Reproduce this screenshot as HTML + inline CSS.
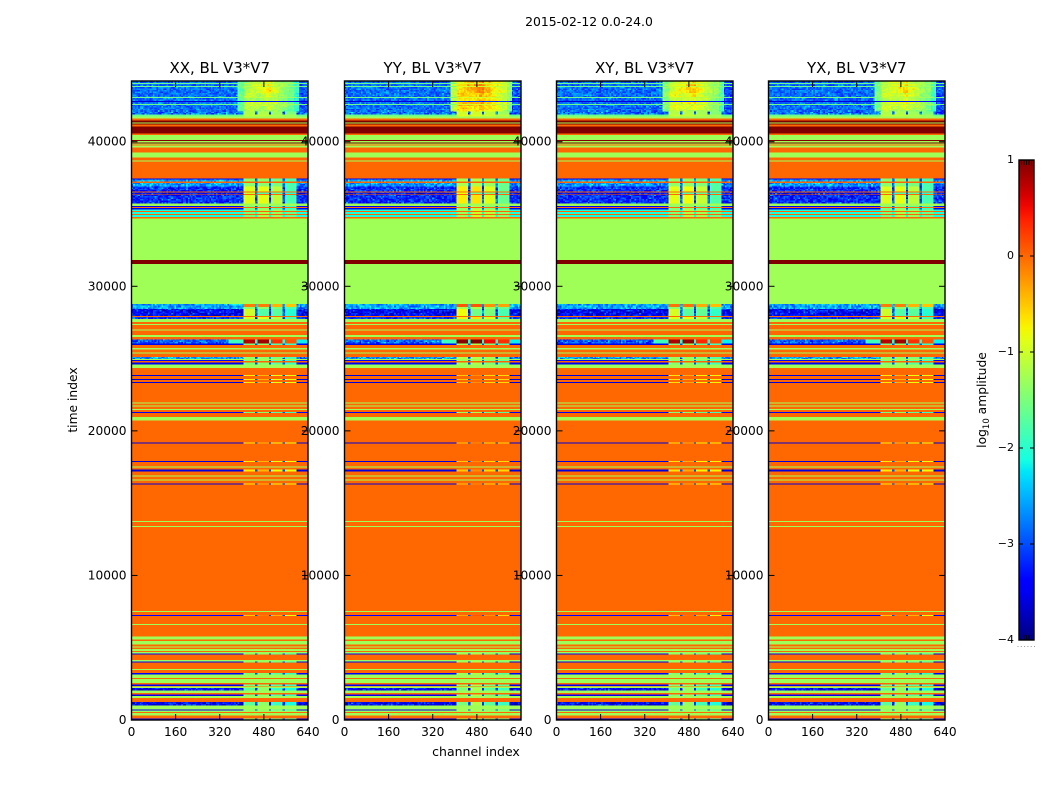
<!DOCTYPE html>
<html>
<head>
<meta charset="utf-8">
<title>2015-02-12 waterfall</title>
<style>
html,body{margin:0;padding:0;background:#fff;width:1050px;height:800px;overflow:hidden}
svg{display:block}
text{font-family:"DejaVu Sans","Liberation Sans",sans-serif;fill:#000}
</style>
</head>
<body>
<svg id="chart" xmlns="http://www.w3.org/2000/svg" width="1050" height="800" viewBox="0 0 1050 800">
  <defs>
    <linearGradient id="jetGradient" x1="0" y1="1" x2="0" y2="0"></linearGradient>
  </defs>
  <g id="heatmaps"></g>
  <g id="frames"></g>
  <g id="colorbar"></g>
  <g id="labels"></g>
</svg>
<script>
// ---------- chart data ----------
const panelTitles = ['XX, BL V3*V7', 'YY, BL V3*V7', 'XY, BL V3*V7', 'YX, BL V3*V7'];
const xTicks = [0, 160, 320, 480, 640];
const yTicks = [0, 10000, 20000, 30000, 40000];
const cbarTicks = [1, 0, -1, -2, -3, -4];
const timeMax = 44200;
const channelMax = 640;
const vMin = -4;
const vMax = 1;

// Time index where each horizontal band begins
const bandStarts = [
  0, 90, 311, 485, 554, 658, 727, 1004, 1232, 1523,
  1675, 1765, 1869, 2042, 2229, 2319, 2368, 2458, 2575, 2852,
  2921, 3150, 3240, 3475, 3545, 3981, 4050, 4140, 4535, 4604,
  4694, 4777, 4901, 4998, 5088, 5227, 5455, 5552, 5781, 6556,
  6625, 7179, 7248, 7456, 7525, 13341, 13410, 13687, 13756, 16304,
  16373, 16560, 16629, 16857, 16927, 17183, 17342, 17460, 17529, 17848,
  17917, 19142, 19211, 20734, 20963, 21219, 21288, 21427, 21496, 21669,
  21738, 21877, 21946, 23296, 23365, 23504, 23573, 23781, 23850, 24355,
  24590, 24729, 24818, 24888, 24957, 25117, 25352, 25421, 25629, 25740,
  25926, 26044, 26321, 26501, 26619, 26944, 27014, 27311, 27380, 27540,
  27727, 27886, 27955, 28420, 28578, 28765, 31553, 31810, 34698, 34809,
  34926, 34995, 35134, 35204, 35321, 35411, 35481, 35550, 35737, 36312,
  36367, 36492, 36547, 36887, 37143, 37233, 37400, 37468, 38618, 38687,
  38922, 39268, 39614, 39724, 39821, 39890, 39960, 40050, 40119, 40465,
  40583, 41040, 41206, 41275, 41345, 41456, 41622, 41733, 41870, 42080,
  42530, 42600, 42750, 42830, 43010, 43080, 43800, 43870, 44000, 44070
];
// Which amplitude profile each band uses
const bandKinds = [
  'B','O','G','O','G','B','G','M','O','G',
  'B','O','G','M','G','O','B','O','G','O',
  'G','B','O','G','O','B','G','O','B','G',
  'O','G','O','G','O','G','O','G','O','G',
  'O','P','O','G','O','G','O','G','O','E',
  'O','G','O','G','O','E','O','G','O','E',
  'O','E','O','G','O','B','O','G','O','G',
  'O','G','O','E','O','E','O','E','O','G',
  'B','O','B','G','C','O','G','O','G','O',
  'B','R','O','G','O','G','O','G','O','G',
  'N','O','H','C','S','G','D','G','O','K',
  'O','K','O','K','B','O','B','G','N','O',
  'H','O','N','C','O','C','B','O','G','O',
  'G','O','G','O','G','D','G','D','G','O',
  'D','O','D','G','D','O','G','L','U','T',
  'L','T','X','T','L','T','L','T','L','T'
];
// Channel boundaries of the spectral segments
const channelEdges = [0, 406, 448, 457, 499, 506, 548, 557, 599, 640];
// log10 amplitude for each spectral segment, per band profile
const levelsO = [0, 0, 0, 0, 0, 0, 0, 0, 0];
const levelsG = [-1.275, -1.275, -1.275, -1.275, -1.275, -1.275, -1.275, -1.275, -1.275];
const levelsD = [1, 1, 1, 1, 1, 1, 1, 1, 1];
const levelsB = [-3.5, -1.5, -3, -1.4, -3, -1.7, -3, -1.9, -3.5];
const levelsE = [-3.6, -0.7, -3, -0.4, -3, -0.8, -3, -0.8, -3.6];
const levelsP = [-3.4, -0.5, -3, -0.1, -3, -0.4, -3, -0.8, -3.4];
const levelsN = [-3.2, -0.9, -3, -0.85, -3, -1.1, -3, -1.8, -3.2];
const levelsM = [-3.4, -1.7, -3.2, -1.4, -3.2, -1.9, -3.2, -2.1, -3.6];
const levelsH = [-3.4, -1.0, -3, -1.75, -3, -1.7, -3, -2.0, -3.4];
const levelsR = [-2.9, 0.75, -2, 0.85, -2, 0.3, -2, 0.1, -2.2];
const levelsS = [-2.6, -0.1, -2.4, -0.1, -2.4, -0.4, -2.4, -0.5, -2.6];
const levelsC = [-2.6, -1.4, -2.8, -1.4, -2.8, -1.5, -2.8, -1.8, -2.8];
const levelsK = [-2.1, -1.5, -2.1, -1.2, -2.1, -1.3, -2.1, -1.6, -2.1];
const levelsL = [-1.6, -1.1, -1.1, -1.1, -1.1, -1.2, -1.2, -1.3, -1.6];
const levelsX = [-3.6, -3.3, -3.3, -3.3, -3.3, -3.3, -3.3, -3.3, -3.6];
const levelsU = [-2.85, -1.2, -3, -1.2, -3, -1.3, -3, -1.5, -3];
const noisyKinds = ['N', 'M', 'H', 'R', 'S', 'C', 'T', 'U'];
// Cyan shoulder left of the active band in the hot-row profile: start channel, end channel, level
const hotShoulder = [350, 406, -1.9];
// Boost of the active-band channels for each polarisation panel
const panelBoost = [0, 0.2, 0.05, 0];
const blobBoost = [0, 0.55, 0.2, 0.1];
// Active-band texture at the top of the panels (rows top to bottom)
const blobRow0 = [-1.7, -1.4, -1.2, -1.05, -0.9, -0.85, -1.1, -1.3, -1.4, -1.6, -2.0];
const blobRow1 = [-1.6, -1.3, -1.1, -0.95, -0.8, -0.7, -1.0, -1.2, -1.4, -1.6, -1.9];
const blobRow2 = [-1.7, -1.2, -1.1, -1.0, -0.85, -0.7, -0.95, -1.2, -1.35, -1.5, -1.9];
const blobRow3 = [-1.6, -1.1, -1.05, -1.2, -1.1, -0.9, -1.1, -1.3, -1.5, -1.6, -2.0];
const blobRow4 = [-1.7, -1.3, -1.3, -1.3, -1.2, -1.1, -1.2, -1.35, -1.5, -1.7, -2.0];
const blobRow5 = [-1.7, -1.05, -1.0, -1.05, -1.0, -0.95, -1.1, -1.2, -1.4, -1.6, -1.9];
const blobRow6 = [-1.7, -1.1, -1.1, -1.2, -1.2, -1.1, -1.2, -1.3, -1.4, -1.6, -2.0];
const blobRow7 = [-1.8, -1.3, -1.2, -1.4, -1.3, -1.4, -1.4, -1.5, -1.6, -1.7, -2.1];
// Hand-read speckle deviations for the noisy (blue) bands
const speckle = [0.1, -0.3, 0.4, -0.5, 0.0, 0.3, -0.2, 0.6, -0.4, 0.2, -0.1, 0.5, -0.6, 0.1, 0.35,
  -0.25, 0.15, -0.45, 0.55, 0.0, -0.35, 0.25, 0.9, -0.15, 0.05, -0.55, 0.3, -0.05, 0.45, -0.3,
  0.2, -0.5, 0.1, 0.4, -0.2, -0.4, 0.6, 0.0, -0.1, 0.3, -0.6];

// ---------- lookups ----------
const levelsByKind = { O: levelsO, G: levelsG, D: levelsD, B: levelsB, E: levelsE, P: levelsP, N: levelsN,
  M: levelsM, H: levelsH, R: levelsR, S: levelsS, C: levelsC, K: levelsK, L: levelsL, X: levelsX, U: levelsU };
const blobRows = [blobRow0, blobRow1, blobRow2, blobRow3, blobRow4, blobRow5, blobRow6, blobRow7];

// ---------- layout ----------
const NS = 'http://www.w3.org/2000/svg';
const panelLefts = [131.5, 344.5, 556.5, 768.5];
const panelWidth = 176.5;
const plotTop = 81;
const plotBottom = 720;
const cellChannels = 6;
const cellTime = 100;
const cellOverlap = 0.5;
const cbarLeft = 1019, cbarRight = 1034, cbarTop = 160, cbarBottom = 640;

function xScale(p, c) { return panelLefts[p] + (c / channelMax) * panelWidth; }
function yScale(t) { return plotBottom - (t / timeMax) * (plotBottom - plotTop); }
function cbarY(v) { return cbarBottom - (v - vMin) / (vMax - vMin) * (cbarBottom - cbarTop); }

function interp(stops, f) {
  for (let i = 1; i < stops.length; i++) {
    if (f <= stops[i][0]) {
      const a = stops[i - 1], b = stops[i];
      return a[1] + (b[1] - a[1]) * (f - a[0]) / (b[0] - a[0]);
    }
  }
  return stops[stops.length - 1][1];
}
const jetR = [[0, 0], [0.35, 0], [0.66, 1], [0.89, 1], [1, 0.5]];
const jetG = [[0, 0], [0.125, 0], [0.375, 1], [0.64, 1], [0.91, 0], [1, 0]];
const jetB = [[0, 0.5], [0.11, 1], [0.34, 1], [0.65, 0], [1, 0]];
function jet(v) {
  const f = Math.max(0, Math.min(1, (v - vMin) / (vMax - vMin)));
  const r = Math.round(255 * interp(jetR, f));
  const g = Math.round(255 * interp(jetG, f));
  const b = Math.round(255 * interp(jetB, f));
  return 'rgb(' + r + ',' + g + ',' + b + ')';
}

function addCell(group, p, c0, c1, t0, t1, v) {
  const el = document.createElementNS(NS, 'rect');
  
  
  const yTop = Math.max(plotTop, yScale(t1) - cellOverlap), yBot = yScale(t0);
  const xLeft = xScale(p, c0);
  const xRight = Math.min(xScale(p, channelMax), xScale(p, c1) + cellOverlap);
  el.setAttribute('x', xLeft.toFixed(2));
  el.setAttribute('y', yTop.toFixed(2));
  el.setAttribute('width', (xRight - xLeft).toFixed(2));
  el.setAttribute('height', (yBot - yTop).toFixed(2));
  el.setAttribute('fill', jet(v));
  group.appendChild(el);
}
function addLine(group, name, x1, y1, x2, y2, stroke, width) {
  const el = document.createElementNS(NS, 'line');
  
  
  el.setAttribute('x1', x1);
  el.setAttribute('y1', y1);
  el.setAttribute('x2', x2);
  el.setAttribute('y2', y2);
  el.setAttribute('stroke', stroke);
  el.setAttribute('stroke-width', width);
  group.appendChild(el);
}
function addText(group, name, x, y, str, size, anchor) {
  const el = document.createElementNS(NS, 'text');
  
  
  el.setAttribute('x', x);
  el.setAttribute('y', y);
  el.setAttribute('font-size', size);
  el.setAttribute('text-anchor', anchor);
  el.textContent = str;
  group.appendChild(el);
  return el;
}
// Picks one of the hand-read deviations for a cell, scrambling its grid position
function speck(col, row, p) {
  let h = Math.imul(col + 1, 73856093) ^ Math.imul(row + 1, 19349663) ^ Math.imul(p + 1, 83492791);
  h ^= h >>> 13;
  h = Math.imul(h, 1274126177);
  h ^= h >>> 16;
  return speckle[(h >>> 0) % speckle.length];
}

function drawNoisy(group, p, c0, c1, t0, t1, v, amp) {
  let row = Math.floor(t0 / cellTime);
  for (let t = t0; t < t1; t += cellTime, row++) {
    const tEnd = Math.min(t + cellTime, t1);
    for (let c = c0; c < c1; c += cellChannels) {
      const cEnd = Math.min(c + cellChannels, c1);
      addCell(group, p, c, cEnd, t, tEnd, v + amp * speck(Math.floor(c / cellChannels), row, p));
    }
  }
}
function drawBlobBand(group, p, t0, t1) {
  const blobLeft = 385, blobRight = 605, blobBase = 41870;
  drawNoisy(group, p, 0, blobLeft, t0, t1, -2.85, 0.55);
  drawNoisy(group, p, blobRight, channelMax, t0, t1, -3.0, 0.6);
  let row = Math.floor(t0 / cellTime);
  for (let t = t0; t < t1; t += cellTime, row++) {
    const tEnd = Math.min(t + cellTime, t1);
    const r = Math.min(blobRows.length - 1, Math.floor((timeMax - t - 1) / (timeMax - blobBase) * blobRows.length));
    for (let c = blobLeft; c < blobRight; c += cellChannels) {
      const cEnd = Math.min(c + cellChannels, blobRight);
      const cIdx = Math.min(10, Math.floor((c - blobLeft) / (blobRight - blobLeft) * 11));
      const v = blobRows[r][cIdx] + blobBoost[p] + 0.35 * speck(Math.floor(c / cellChannels), row, p);
      addCell(group, p, c, cEnd, t, tEnd, v);
    }
  }
}
function drawPanel(p) {
  const group = document.createElementNS(NS, 'g');
  
  
  group.setAttribute('shape-rendering', 'crispEdges');
  document.getElementById('heatmaps').appendChild(group);
  for (let b = 0; b < bandStarts.length; b++) {
    const t0 = bandStarts[b];
    const t1 = b + 1 < bandStarts.length ? bandStarts[b + 1] : timeMax;
    const kind = bandKinds[b];
    if (kind === 'T') { drawBlobBand(group, p, t0, t1); continue; }
    const levels = levelsByKind[kind];
    const boosted = kind !== 'O' && kind !== 'G' && kind !== 'D';
    const noisy = noisyKinds.indexOf(kind) >= 0;
    for (let s = 0; s < levels.length; s++) {
      const v = levels[s] + (boosted && s % 2 === 1 ? panelBoost[p] : 0);
      let cStart = channelEdges[s];
      let cStop = channelEdges[s + 1];
      if (kind === 'R' && s === 0) {
        cStop = hotShoulder[0];
        addCell(group, p, hotShoulder[0], hotShoulder[1], t0, t1, hotShoulder[2]);
      }
      if (noisy && v < -2.3) {
        drawNoisy(group, p, cStart, cStop, t0, t1, v, 0.75);
      } else {
        addCell(group, p, cStart, cStop, t0, t1, v);
      }
    }
  }
}
function drawFrame(p) {
  const frames = document.getElementById('frames');
  const labels = document.getElementById('labels');
  const x0 = panelLefts[p], x1 = x0 + panelWidth;
  const frame = document.createElementNS(NS, 'rect');
  
  
  frame.setAttribute('x', x0);
  frame.setAttribute('y', plotTop);
  frame.setAttribute('width', panelWidth);
  frame.setAttribute('height', plotBottom - plotTop);
  frame.setAttribute('fill', 'none');
  frame.setAttribute('stroke', '#000');
  frame.setAttribute('stroke-width', '1.4');
  frames.appendChild(frame);
  xTicks.forEach(function (c) {
    const x = xScale(p, c);
    addLine(frames, 'x-tick', x, plotBottom, x, plotBottom - 6, '#000', 1);
    addLine(frames, 'x-tick-top', x, plotTop, x, plotTop + 6, '#000', 1);
    addText(labels, 'x-tick-label', x, 736, String(c), 12.2, 'middle');
  });
  yTicks.forEach(function (t) {
    const y = yScale(t);
    addLine(frames, 'y-tick', x0, y, x0 + 6, y, '#000', 1);
    addLine(frames, 'y-tick-right', x1, y, x1 - 6, y, '#000', 1);
    addText(labels, 'y-tick-label', x0 - 5, y + 4, String(t), 12.2, 'end');
  });
  addText(labels, 'panel-title', x0 + panelWidth / 2, 73, panelTitles[p], 15, 'middle');
}
function drawColorbar() {
  const grad = document.getElementById('jetGradient');
  for (let i = 0; i <= 40; i++) {
    const stop = document.createElementNS(NS, 'stop');
    stop.setAttribute('offset', (i / 40).toFixed(3));
    stop.setAttribute('stop-color', jet(vMin + (vMax - vMin) * i / 40));
    grad.appendChild(stop);
  }
  const group = document.getElementById('colorbar');
  const bar = document.createElementNS(NS, 'rect');
  
  
  bar.setAttribute('x', cbarLeft);
  bar.setAttribute('y', cbarTop);
  bar.setAttribute('width', cbarRight - cbarLeft);
  bar.setAttribute('height', cbarBottom - cbarTop);
  bar.setAttribute('fill', 'url(#jetGradient)');
  bar.setAttribute('stroke', '#000');
  bar.setAttribute('stroke-width', '1.4');
  group.appendChild(bar);
  cbarTicks.forEach(function (v) {
    const y = cbarY(v);
    addLine(group, 'colorbar-tick', cbarLeft, y, cbarLeft + 4, y, '#000', 1);
    addLine(group, 'colorbar-tick-right', cbarRight, y, cbarRight - 4, y, '#000', 1);
    addText(group, 'colorbar-tick-label', cbarLeft - 5, y + 3, (v < 0 ? '\u2212' + (-v) : String(v)), 11, 'end');
  });
  for (let i = 1; i < 6; i++) {
    const x = cbarLeft + i * (cbarRight - cbarLeft) / 6;
    addLine(group, 'colorbar-minor-tick', x, cbarTop, x, cbarTop + 5, '#000', 0.8);
    addLine(group, 'colorbar-minor-tick', x, cbarBottom, x, cbarBottom - 5, '#000', 0.8);
  }
  for (let i = 0; i < 6; i++) {
    const dot = document.createElementNS(NS, 'rect');
    
    
    dot.setAttribute('x', 1017.5 + i * 3.3);
    dot.setAttribute('y', 646);
    dot.setAttribute('width', 1);
    dot.setAttribute('height', 1);
    dot.setAttribute('fill', '#999');
    group.appendChild(dot);
  }
  const cbarLabel = document.createElementNS(NS, 'text');
  
  
  cbarLabel.setAttribute('transform', 'translate(986 400) rotate(-90)');
  cbarLabel.setAttribute('text-anchor', 'middle');
  cbarLabel.setAttribute('font-size', '12.3');
  cbarLabel.innerHTML = 'log<tspan font-size="8.5" dy="3">10</tspan><tspan dy="-3"> amplitude</tspan>';
  group.appendChild(cbarLabel);
}

panelTitles.forEach(function (_, p) { drawPanel(p); });
panelTitles.forEach(function (_, p) { drawFrame(p); });
drawColorbar();

const labelGroup = document.getElementById('labels');
addText(labelGroup, 'figure-title', 589, 26, '2015-02-12 0.0-24.0', 12.4, 'middle');
addText(labelGroup, 'x-axis-title', 476, 756, 'channel index', 12.5, 'middle');
const yTitle = addText(labelGroup, 'y-axis-title', 0, 0, 'time index', 12.3, 'middle');
yTitle.setAttribute('transform', 'translate(77 400) rotate(-90)');
</script>
</body>
</html>
